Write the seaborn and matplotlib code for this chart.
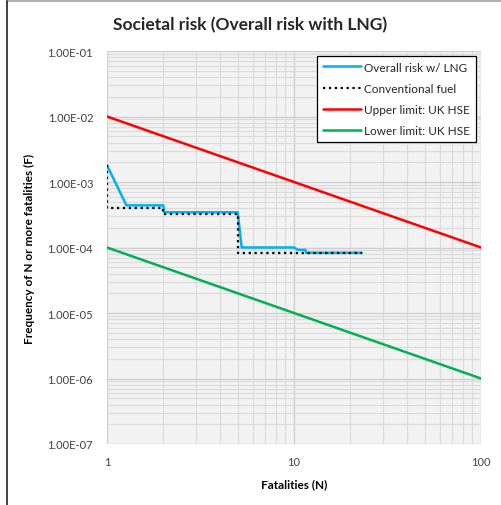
import matplotlib
matplotlib.use("Agg")
import matplotlib.pyplot as plt
import matplotlib.ticker as mticker
from matplotlib.lines import Line2D
import seaborn as sns
import pandas as pd

# ---- data ----
lng_N = [1, 1.27, 2.0, 2.02, 5.0, 5.25, 10.0, 10.5, 11.5, 11.6, 23]
lng_F = [1.8e-3, 4.4e-4, 4.4e-4, 3.45e-4, 3.45e-4, 1.0e-4, 1.0e-4, 9.2e-5, 9.2e-5, 8.3e-5, 8.3e-5]

conv_N = [1, 1, 2, 2, 5, 5, 23]
conv_F = [1.8e-3, 4.0e-4, 4.0e-4, 3.25e-4, 3.25e-4, 8.2e-5, 8.2e-5]

upper_N = [1, 100]
upper_F = [1e-2, 1e-4]
lower_N = [1, 100]
lower_F = [1e-4, 1e-6]

series_names = ["Overall risk w/ LNG", "Conventional fuel", "Upper limit: UK HSE", "Lower limit: UK HSE"]
title = "Societal risk (Overall risk with LNG)"
x_label = "Fatalities (N)"
y_label = "Frequency of N or more fatalities (F)"
x_ticks = [1, 10, 100]
y_ticks = [1e-7, 1e-6, 1e-5, 1e-4, 1e-3, 1e-2, 1e-1]

sns.set_theme(style="white")
plt.rcParams["font.family"] = ["Lato", "DejaVu Sans"]

fig = plt.figure(figsize=(5.01, 5.06), dpi=100)
ax = fig.add_axes([107/501, 1-445/506, (481-107)/501, (445-52)/506])
ax.set_facecolor("#F2F2F2")

styles = [
    (lng_N, lng_F, "#00B0F0", "-", 1.8),
    (conv_N, conv_F, "#000000", ":", 1.6),
    (upper_N, upper_F, "#FF0000", "-", 1.8),
    (lower_N, lower_F, "#00B050", "-", 1.8),
]
for (xs, ys, col, ls, lw), name in zip(styles, series_names):
    df = pd.DataFrame({"N": xs, "F": ys})
    sns.lineplot(data=df, x="N", y="F", ax=ax, color=col, linestyle=ls, linewidth=lw,
                 sort=False, estimator=None, label=name)

ax.set_xscale("log")
ax.set_yscale("log")
ax.set_xlim(1, 100)
ax.set_ylim(1e-7, 1e-1)
ax.set_xticks(x_ticks)
ax.xaxis.set_major_formatter(mticker.FuncFormatter(lambda v, p: f"{v:g}"))
ax.set_yticks(y_ticks)
ax.yaxis.set_major_formatter(mticker.FuncFormatter(lambda v, p: f"{v:.2E}"))
ax.xaxis.set_minor_locator(mticker.LogLocator(base=10, subs=range(2, 10)))
ax.yaxis.set_minor_locator(mticker.LogLocator(base=10, subs=range(2, 10)))
ax.xaxis.set_minor_formatter(mticker.NullFormatter())
ax.yaxis.set_minor_formatter(mticker.NullFormatter())
ax.grid(which="major", color="#CFCFCF", linewidth=1.0)
ax.grid(which="minor", color="#DCDCDC", linewidth=0.9)
ax.set_axisbelow(True)
ax.tick_params(which="both", length=0, labelsize=8, colors="#404040")
ax.tick_params(axis="y", pad=10)
ax.tick_params(axis="x", pad=9)
for s in ax.spines.values():
    s.set_visible(False)

ax.set_xlabel(x_label, fontsize=8.5, fontweight="bold", color="#000000", labelpad=8)
ax.set_ylabel(y_label, fontsize=8.5, fontweight="bold", color="#000000", labelpad=9)

fig.text(0.5, 1-25/506, title, ha="center", va="center", fontsize=12.5, fontweight="bold")

leg = ax.legend(loc="upper right", fontsize=8.5, frameon=True, fancybox=False,
                borderaxespad=0.4, handlelength=3.2, handletextpad=0.3, labelspacing=0.85,
                borderpad=0.5)
leg.get_frame().set_edgecolor("#000000")
leg.get_frame().set_linewidth(0.9)
leg.get_frame().set_facecolor("white")
leg.get_frame().set_alpha(1)

# outer chart border remnants
fig.add_artist(Line2D([7/501, 1], [1-1.5/506, 1-1.5/506], color="#A0A0A0", linewidth=1.2, transform=fig.transFigure))
fig.add_artist(Line2D([7/501, 7/501], [0, 1-1.5/506], color="#202020", linewidth=1.2, transform=fig.transFigure))

fig.savefig("out.png", dpi=100)
